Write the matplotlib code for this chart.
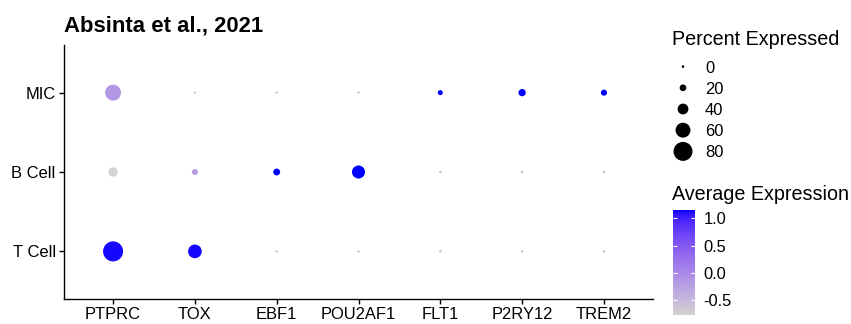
import numpy as np
import matplotlib
matplotlib.use("Agg")
import matplotlib.pyplot as plt
from matplotlib.colors import ListedColormap, Normalize
from matplotlib.cm import ScalarMappable

plt.rcParams['font.family'] = ['Liberation Sans', 'DejaVu Sans']

title = "Absinta et al., 2021"
genes = ["PTPRC", "TOX", "EBF1", "POU2AF1", "FLT1", "P2RY12", "TREM2"]
groups = ["T Cell", "B Cell", "MIC"]

# percent expressed per group (one value per gene)
pct_T = [85, 54, 0, 0, 0, 0, 0]
pct_B = [33, 17, 21, 51, 0, 0, 0]
pct_MIC = [65, 0, 0, 0, 12, 23, 17]

# scaled average expression per group
avg_T = [1.13, 1.13, -0.577, -0.577, -0.577, -0.577, -0.577]
avg_B = [-0.78, -0.2, 1.155, 1.155, -0.577, -0.577, -0.577]
avg_MIC = [-0.15, -0.72, -0.577, -0.577, 1.155, 1.155, 1.155]

size_legend_vals = [0, 20, 40, 60, 80]
cbar_ticks = [1.0, 0.5, 0.0, -0.5]


# ---- Lab-interpolated gradient lightgrey -> blue (like ggplot) ----
M = np.array([[0.4124564, 0.3575761, 0.1804375],
              [0.2126729, 0.7151522, 0.0721750],
              [0.0193339, 0.1191920, 0.9503041]])
WHITE = np.array([0.95047, 1.0, 1.08883])


def rgb2lab(rgb):
    c = np.asarray(rgb, float)
    lin = np.where(c <= 0.04045, c / 12.92, ((c + 0.055) / 1.055) ** 2.4)
    xyz = M @ lin / WHITE
    f = np.where(xyz > (6 / 29) ** 3, np.cbrt(xyz), xyz / (3 * (6 / 29) ** 2) + 4 / 29)
    return np.array([116 * f[1] - 16, 500 * (f[0] - f[1]), 200 * (f[1] - f[2])])


def lab2rgb(lab):
    L, a, b = lab
    fy = (L + 16) / 116
    fx = fy + a / 500
    fz = fy - b / 200
    f = np.array([fx, fy, fz])
    xyz = np.where(f > 6 / 29, f ** 3, 3 * (6 / 29) ** 2 * (f - 4 / 29)) * WHITE
    lin = np.linalg.solve(M, xyz)
    lin = np.clip(lin, 0, 1)
    c = np.where(lin <= 0.0031308, 12.92 * lin, 1.055 * lin ** (1 / 2.4) - 0.055)
    return np.clip(c, 0, 1)


lo = rgb2lab(np.array([211, 211, 211]) / 255)
hi = rgb2lab(np.array([0, 0, 255]) / 255)
cols = [lab2rgb(lo + (hi - lo) * t) for t in np.linspace(0, 1, 256)]
cmap = ListedColormap(cols)

pct = np.array([pct_T, pct_B, pct_MIC], float)
avg = np.array([avg_T, avg_B, avg_MIC], float)
norm = Normalize(vmin=avg.min(), vmax=avg.max())


def size_of(p):
    d_px = 2.6 + 0.205 * np.asarray(p, float)
    return (d_px * 0.72) ** 2


W, H = 851, 324
fig = plt.figure(figsize=(W / 100, H / 100), dpi=100)


def rect(x0, y0, x1, y1):
    return [x0 / W, 1 - y1 / H, (x1 - x0) / W, (y1 - y0) / H]


ax = fig.add_axes(rect(64, 45, 653, 299))
xx, yy = np.meshgrid(np.arange(len(genes)), np.arange(len(groups)))
ax.scatter(xx.ravel(), yy.ravel(), s=size_of(pct.ravel()), c=avg.ravel(),
           cmap=cmap, norm=norm, linewidths=0, zorder=3)
ax.set_xlim(-0.6, len(genes) - 0.4)
ax.set_ylim(-0.6, len(groups) - 0.4)
ax.set_xticks(range(len(genes)))
ax.set_xticklabels(genes)
ax.set_yticks(range(len(groups)))
ax.set_yticklabels(groups)
for s in ['top', 'right']:
    ax.spines[s].set_visible(False)
for s in ['left', 'bottom']:
    ax.spines[s].set_linewidth(1.0)
ax.tick_params(length=3.5, width=1.0, labelsize=11.9, pad=2.5, colors='black')
ax.set_title(title, loc='left', fontsize=15.9, fontweight='bold', pad=10)

# ---- size legend ----
fig.text(672 / W, 1 - 45 / H, "Percent Expressed", fontsize=14.2, va='baseline', ha='left')
lax = fig.add_axes(rect(672, 56, 694, 162))
lax.scatter(np.zeros(len(size_legend_vals)), np.arange(len(size_legend_vals)),
            s=size_of(size_legend_vals), c='black', linewidths=0)
lax.set_xlim(-1, 1)
lax.set_ylim(len(size_legend_vals) - 0.5, -0.5)
lax.set_xticks([])
lax.yaxis.tick_right()
lax.set_yticks(range(len(size_legend_vals)))
lax.set_yticklabels([str(v) for v in size_legend_vals])
lax.tick_params(axis='y', length=0, pad=8, labelsize=11.9)
for s in lax.spines.values():
    s.set_visible(False)
lax.patch.set_alpha(0)

# ---- colorbar ----
fig.text(672 / W, 1 - 200 / H, "Average Expression", fontsize=14.2, va='baseline', ha='left')
cax = fig.add_axes(rect(672.7, 210, 694.7, 315))
sm = ScalarMappable(norm=norm, cmap=cmap)
cb = fig.colorbar(sm, cax=cax)
cb.outline.set_visible(False)
cb.set_ticks(cbar_ticks)
cb.set_ticklabels([f"{v:.1f}" for v in cbar_ticks])
cax.tick_params(axis='y', which='both', left=True, right=True, direction='in',
                color='white', length=3, width=0.8, labelsize=11.9, pad=6.5,
                labelleft=False, labelright=True)

fig.savefig("out.png", dpi=100)
